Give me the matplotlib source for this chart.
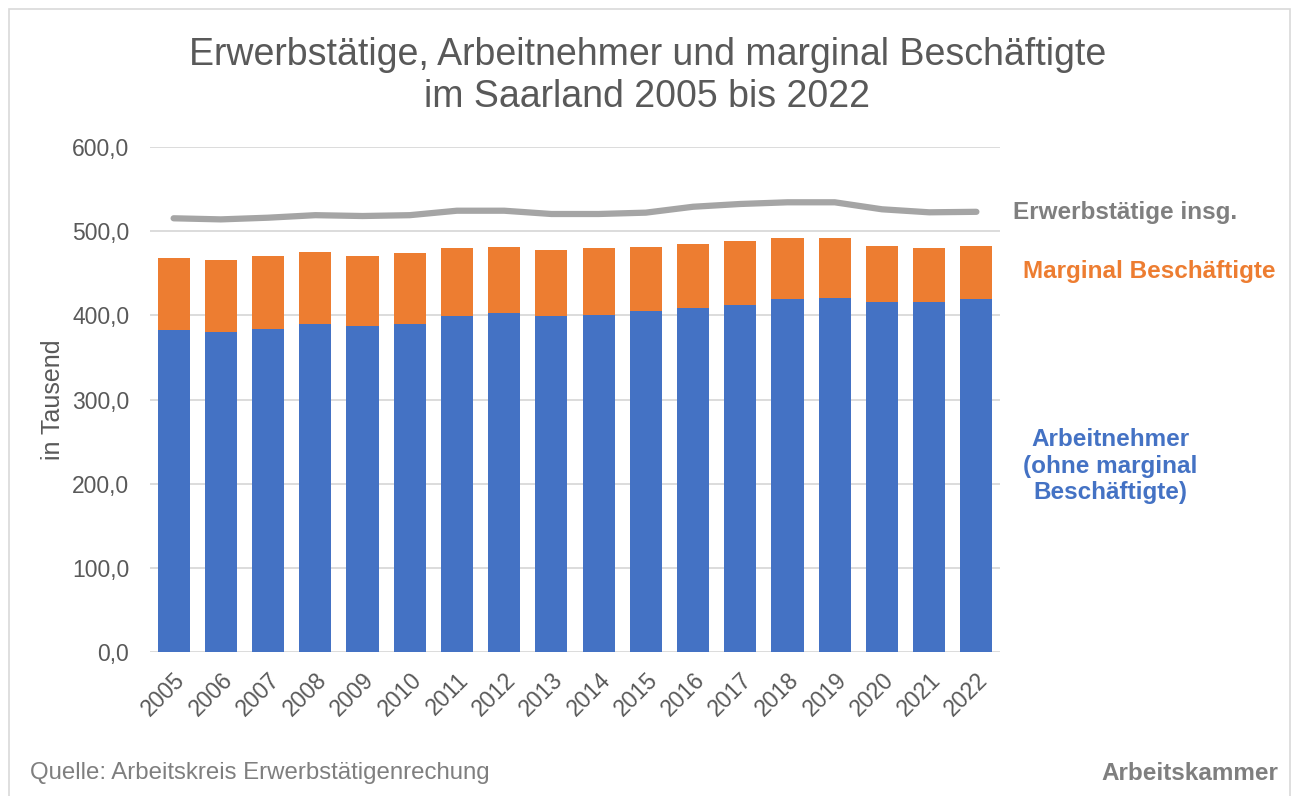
import matplotlib.pyplot as plt
import numpy as np

plt.rcParams['font.family'] = ['Liberation Sans', 'DejaVu Sans']

years = ['2005', '2006', '2007', '2008', '2009', '2010', '2011', '2012', '2013',
         '2014', '2015', '2016', '2017', '2018', '2019', '2020', '2021', '2022']
# Arbeitnehmer ohne marginal Beschäftigte (Tsd.)
arbeitnehmer = [382.2, 380.6, 383.7, 390.0, 386.9, 390.0, 399.2, 402.4, 399.2,
                400.4, 405.1, 408.3, 412.6, 419.0, 420.6, 415.8, 415.8, 419.0]
# Bar totals (Arbeitnehmer + marginal)
bar_total = [467.8, 465.7, 470.5, 474.9, 470.5, 473.6, 479.6, 480.8, 478.0,
             479.6, 481.2, 484.4, 488.7, 491.5, 491.5, 482.7, 479.6, 482.7]
marginal = [t - a for t, a in zip(bar_total, arbeitnehmer)]
erwerbstaetige = [515.3, 514.0, 516.0, 519.0, 518.0, 519.0, 524.3, 524.3, 520.4,
                  520.4, 522.0, 529.0, 532.3, 534.3, 534.3, 526.0, 522.4, 523.0]

blue = '#4472C4'
orange = '#ED7D31'
grey_line = '#A5A5A5'
txt = '#595959'

fig = plt.figure(figsize=(12.95, 7.96), dpi=100)
ax = fig.add_axes([150/1295, 1-652/796, 850/1295, (652-147)/796])

x = np.arange(len(years))
ax.bar(x, arbeitnehmer, width=0.68, color=blue, zorder=2)
ax.bar(x, marginal, bottom=arbeitnehmer, width=0.68, color=orange, zorder=2)
ax.plot(x, erwerbstaetige, color=grey_line, lw=4.5, solid_capstyle='round',
        solid_joinstyle='round', zorder=3)

ax.set_xlim(-0.5, len(years) - 0.5)
ax.set_ylim(0, 600)
ax.set_yticks(np.arange(0, 601, 100))
ax.set_yticklabels([f'{v:.1f}'.replace('.', ',') for v in np.arange(0, 601, 100)])
ax.set_xticks(x)
ax.set_xticklabels(years, rotation=45, ha='right', rotation_mode='anchor')
ax.tick_params(axis='both', length=0, labelsize=16.5, colors=txt)
ax.tick_params(axis='y', pad=15)
ax.tick_params(axis='x', pad=12)
ax.grid(axis='y', color='#D9D9D9', lw=1.3, zorder=0)
for s in ax.spines.values():
    s.set_visible(False)
ax.set_ylabel('in Tausend', fontsize=18, color=txt, labelpad=5)

fig.text(0.5, 1-55/796, 'Erwerbstätige, Arbeitnehmer und marginal Beschäftigte',
         ha='center', va='center', fontsize=27, color=txt)
fig.text(0.5, 1-97/796, 'im Saarland 2005 bis 2022',
         ha='center', va='center', fontsize=27, color=txt)

fig.text(1013/1295, 1-213/796, 'Erwerbstätige insg.', ha='left', va='center',
         fontsize=17.5, fontweight='bold', color='#7F7F7F')
fig.text(1023/1295, 1-272/796, 'Marginal Beschäftigte', ha='left', va='center',
         fontsize=17.5, fontweight='bold', color=orange)
fig.text(1110/1295, 1-466/796, 'Arbeitnehmer\n(ohne marginal\nBeschäftigte)',
         ha='center', va='center', fontsize=17.5, fontweight='bold', color=blue,
         linespacing=1.18)

fig.text(30/1295, 1-773/796, 'Quelle: Arbeitskreis Erwerbstätigenrechung',
         ha='left', va='center', fontsize=17.3, color='#7F7F7F')
fig.text(1278/1295, 1-773/796, 'Arbeitskammer', ha='right', va='center',
         fontsize=17.5, fontweight='bold', color='#7F7F7F')

frame = plt.Rectangle((9/1295, -0.01), 1281/1295, 1-9/796 + 0.01,
                      transform=fig.transFigure, fill=False, ec='#D9D9D9', lw=1.2)
fig.patches.append(frame)

fig.savefig('out.png', dpi=100)
